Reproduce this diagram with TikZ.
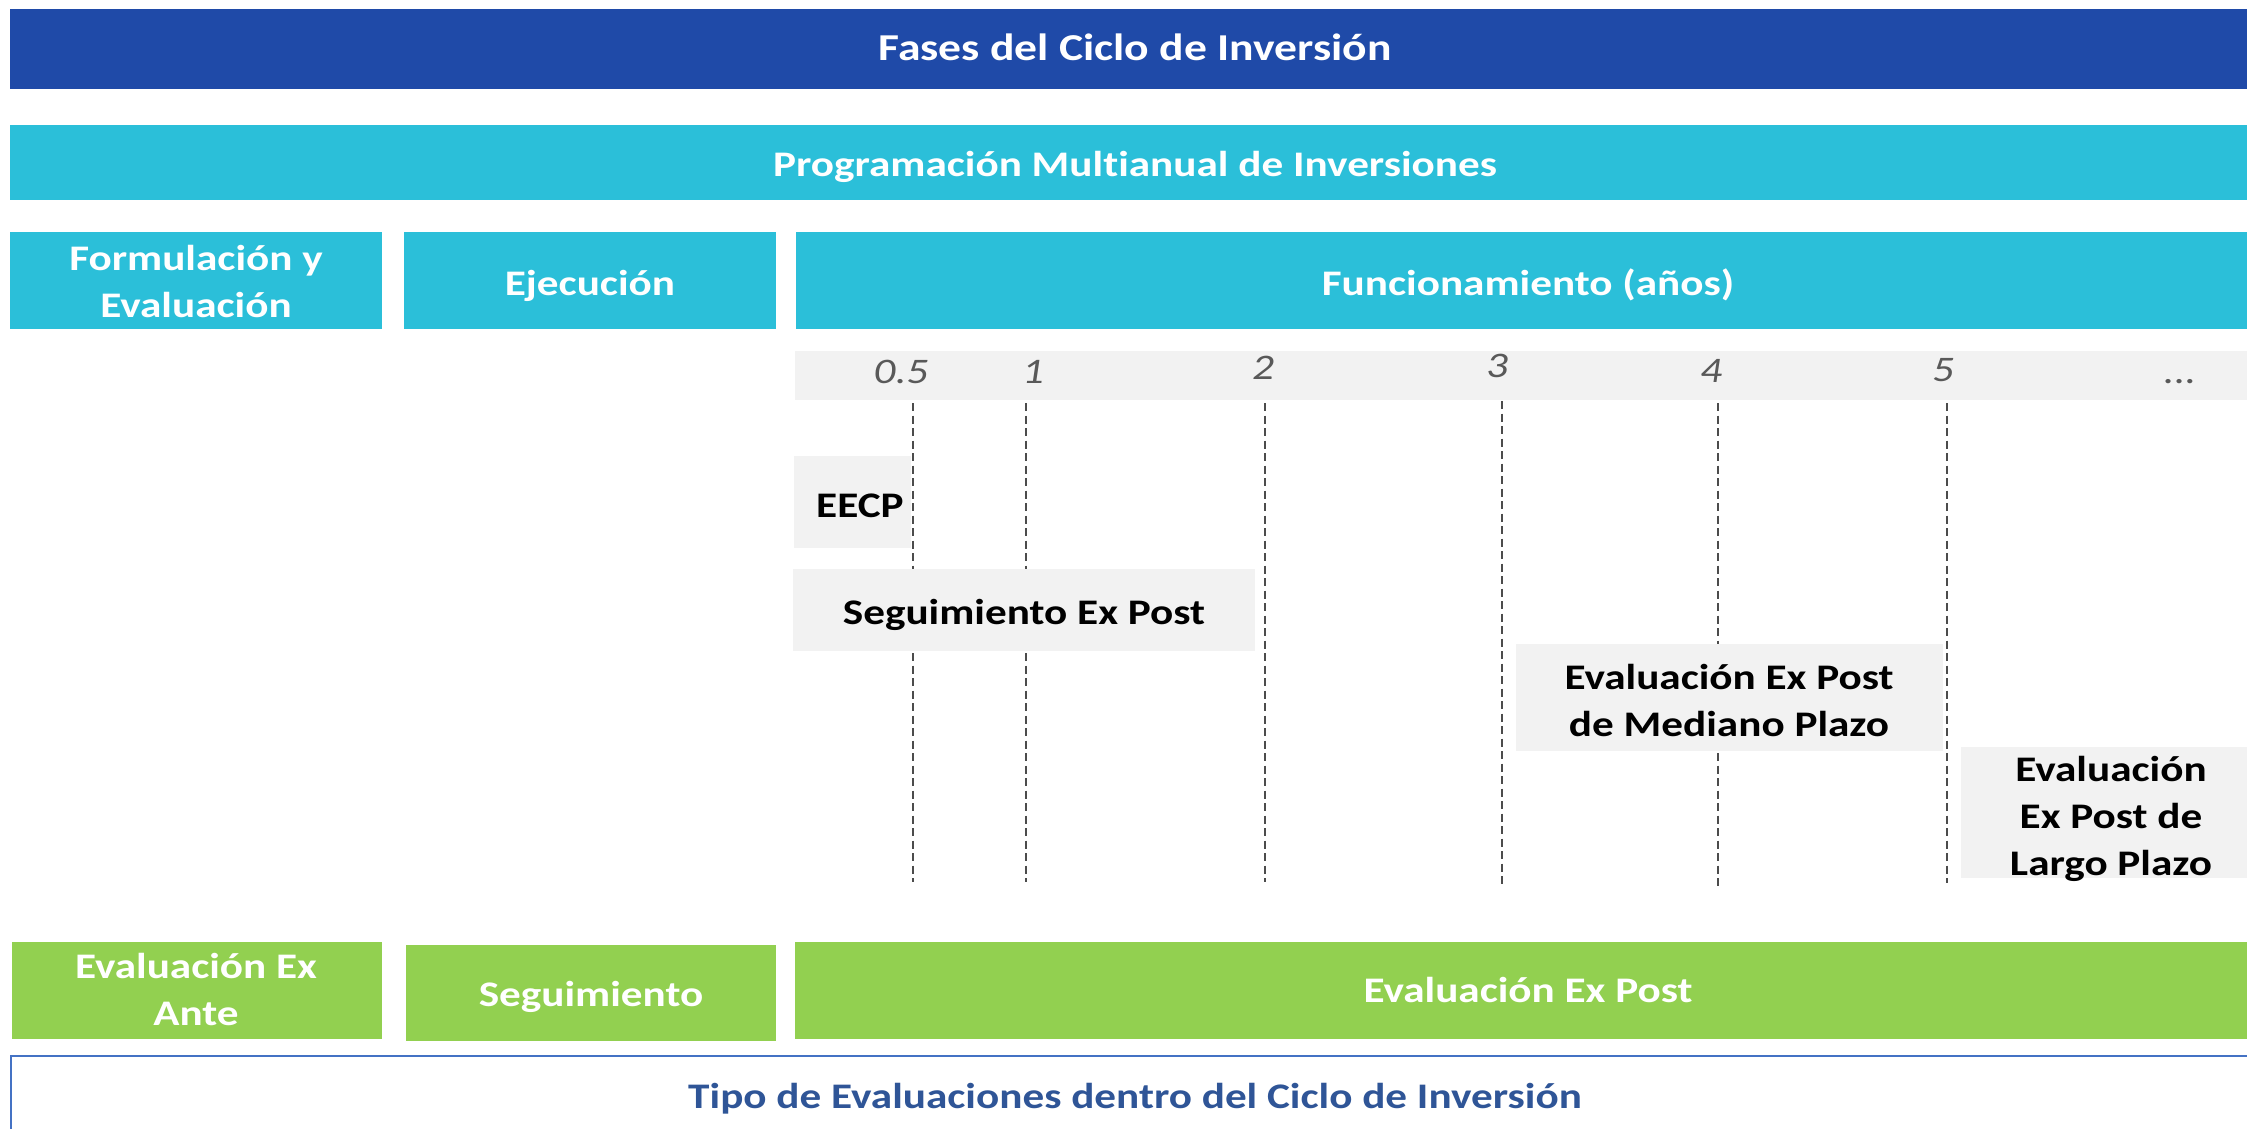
\documentclass[tikz,border=0pt]{standalone}
\usepackage{fontspec}
\setmainfont{Carlito}[FakeStretch=1.2, Ligatures=NoCommon]
\usetikzlibrary{fit}
\definecolor{dblue}{HTML}{1F4AA8}
\definecolor{cyanb}{HTML}{2BBFD9}
\definecolor{greenb}{HTML}{92D050}
\definecolor{grayb}{HTML}{F2F2F2}
\definecolor{numgray}{HTML}{595959}
\definecolor{tblue}{HTML}{2F5597}
\definecolor{bblue}{HTML}{4472C4}
\begin{document}
\begin{tikzpicture}[x=1pt,y=-1pt,
  boxn/.style={inner sep=0pt, outer sep=0pt, draw=none},
  wt/.style={text=white, font=\bfseries\fontsize{36}{47}\selectfont, align=center, anchor=base, inner sep=0pt},
  bt/.style={text=black, font=\bfseries\fontsize{36}{47}\selectfont, align=center, anchor=base, inner sep=0pt},
  num/.style={text=numgray, font=\itshape\fontsize{36}{47}\selectfont, anchor=base, inner sep=0pt},
  gridln/.style={draw=black!70, line width=1.5pt, dash pattern=on 8pt off 4.5pt}
]
\useasboundingbox (0,0) rectangle (2247,1129);
\clip (0,0) rectangle (2247,1129);

% header bars
\node[boxn, fill=dblue, fit={(10,9) (2261,89)}] (title) {};
\node[wt, font=\bfseries\fontsize{38}{47}\selectfont] (titlet) at (1135,61) {Fases del Ciclo de Inversión};
\node[boxn, fill=cyanb, fit={(10,125) (2261,200)}] (prog) {};
\node[wt] (progt) at (1135,177) {Programación Multianual de Inversiones};

% phases
\node[boxn, fill=cyanb, fit={(10,232) (382,329)}] (form) {};
\node[wt] (formt) at (196,317) {Formulación y\\Evaluación};
\node[boxn, fill=cyanb, fit={(404,232) (776,329)}] (ejec) {};
\node[wt] (eject) at (590,295) {Ejecución};
\node[boxn, fill=cyanb, fit={(796,232) (2261,329)}] (func) {};
\node[wt] (funct) at (1528,295) {Funcionamiento (años)};

% timeline band
\node[boxn, fill=grayb, fit={(795,351) (2261,400)}] (band) {};
\node[num] (n05) at (901,383) {0.5};
\node[num] (n1) at (1033,383) {1};
\node[num] (n2) at (1263,379) {2};
\node[num] (n3) at (1497,377) {3};
\node[num] (n4) at (1711,382) {4};
\node[num] (n5) at (1943,381) {5};
\node[num] (ndots) at (2180,383) {...};

% dashed year lines
\coordinate (t05) at (913,403);  \coordinate (b05) at (913,882);
\coordinate (t1) at (1026,403);  \coordinate (b1) at (1026,882);
\coordinate (t2) at (1265,403);  \coordinate (b2) at (1265,882);
\coordinate (t3) at (1502,401);  \coordinate (b3) at (1502,886);
\coordinate (t4) at (1718,403);  \coordinate (b4) at (1718,887);
\coordinate (t5) at (1947,403);  \coordinate (b5) at (1947,883);
\draw[gridln] (t05) -- (b05);
\draw[gridln] (t1) -- (b1);
\draw[gridln] (t2) -- (b2);
\draw[gridln] (t3) -- (b3);
\draw[gridln] (t4) -- (b4);
\draw[gridln] (t5) -- (b5);

% evaluation boxes
\node[boxn, fill=grayb, fit={(794,456) (911,548)}] (eecp) {};
\node[bt, anchor=base west] (eecpt) at (816,517) {EECP};
\node[boxn, fill=grayb, fit={(793,569) (1255,651)}] (segep) {};
\node[bt] (segept) at (1024,624) {Seguimiento Ex Post};
\node[boxn, fill=grayb, fit={(1516,644) (1943,751)}] (med) {};
\node[bt] (medt) at (1729,736) {Evaluación Ex Post\\de Mediano Plazo};
\node[boxn, fill=grayb, fit={(1961,747) (2261,878)}] (largo) {};
\node[bt] (largot) at (2111,875) {Evaluación\\Ex Post de\\Largo Plazo};

% evaluation types
\node[boxn, fill=greenb, fit={(12,942) (382,1039)}] (gante) {};
\node[wt] (gantet) at (196,1025) {Evaluación Ex\\Ante};
\node[boxn, fill=greenb, fit={(406,945) (776,1041)}] (gseg) {};
\node[wt] (gsegt) at (591,1006) {Seguimiento};
\node[boxn, fill=greenb, fit={(795,942) (2261,1039)}] (gpost) {};
\node[wt] (gpostt) at (1528,1002) {Evaluación Ex Post};

% bottom caption box
\node[boxn, fill=white, draw=bblue, line width=2pt, fit={(11,1056) (2261,1180)}] (tipobox) {};
\node[bt, text=tblue] (tipot) at (1135,1108) {Tipo de Evaluaciones dentro del Ciclo de Inversión};
\end{tikzpicture}
\end{document}
